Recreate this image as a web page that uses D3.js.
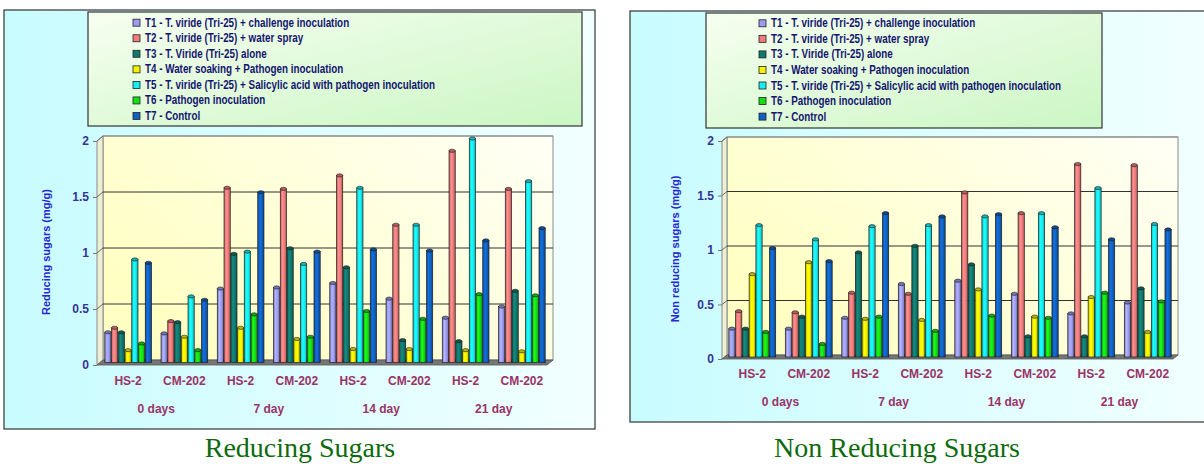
<!DOCTYPE html>
<html>
<head>
<meta charset="utf-8">
<script src="https://cdn.jsdelivr.net/npm/d3@7/dist/d3.min.js"></script>
<style>
  html, body { margin: 0; padding: 0; background: #fff; }
  svg { display: block; }
  .tick text { font-family: "Liberation Sans", Arial, sans-serif; }
</style>
</head>
<body>
<div id="chart"></div>
<script>
// --- Data ---
const days = ["0 days", "7 day", "14 day", "21 day"];
const varieties = ["HS-2", "CM-202"];
const seriesNames = [
  "T1 - T. viride (Tri-25) + challenge inoculation",
  "T2 - T. viride (Tri-25) + water spray",
  "T3 - T. Viride (Tri-25) alone",
  "T4 - Water soaking + Pathogen inoculation",
  "T5 - T. viride (Tri-25) + Salicylic acid with pathogen inoculation",
  "T6 - Pathogen inoculation",
  "T7 - Control"
];
const seriesColors = ["#9c9cf6", "#f27c7c", "#0f7a70", "#f4f400", "#16eef2", "#14e014", "#0f62c4"];
const yTicks = [0, 0.5, 1, 1.5, 2];

// reducing sugars (mg/g), one array per treatment, 8 groups (day x variety)
const redT1 = [0.27, 0.26, 0.66, 0.67, 0.71, 0.57, 0.40, 0.50];
const redT2 = [0.31, 0.37, 1.56, 1.55, 1.67, 1.23, 1.89, 1.55];
const redT3 = [0.27, 0.36, 0.97, 1.02, 0.85, 0.20, 0.19, 0.64];
const redT4 = [0.11, 0.23, 0.31, 0.21, 0.12, 0.12, 0.11, 0.10];
const redT5 = [0.92, 0.59, 0.99, 0.88, 1.56, 1.23, 2.00, 1.62];
const redT6 = [0.17, 0.11, 0.43, 0.23, 0.46, 0.39, 0.61, 0.60];
const redT7 = [0.89, 0.56, 1.52, 0.99, 1.01, 1.00, 1.09, 1.20];

// non reducing sugars (mg/g)
const nonT1 = [0.26, 0.26, 0.36, 0.67, 0.70, 0.58, 0.40, 0.50];
const nonT2 = [0.42, 0.41, 0.59, 0.58, 1.51, 1.32, 1.77, 1.76];
const nonT3 = [0.26, 0.37, 0.96, 1.02, 0.85, 0.19, 0.19, 0.63];
const nonT4 = [0.76, 0.87, 0.35, 0.34, 0.62, 0.37, 0.55, 0.23];
const nonT5 = [1.21, 1.08, 1.20, 1.21, 1.29, 1.32, 1.55, 1.22];
const nonT6 = [0.23, 0.12, 0.37, 0.24, 0.38, 0.36, 0.59, 0.51];
const nonT7 = [1.00, 0.88, 1.32, 1.29, 1.31, 1.19, 1.08, 1.17];

const reducing = [redT1, redT2, redT3, redT4, redT5, redT6, redT7];
const nonReducing = [nonT1, nonT2, nonT3, nonT4, nonT5, nonT6, nonT7];

const groups = days.flatMap(d => varieties.map(v => d + "|" + v));

// --- Layout ---
const W = 1204, H = 464;
const svg = d3.select("#chart").append("svg").attr("width", W).attr("height", H);
const defs = svg.append("defs");

const bg = defs.append("linearGradient").attr("id", "panelBg").attr("x1", 0).attr("x2", 1).attr("y1", 0).attr("y2", 0);
bg.append("stop").attr("offset", "0%").attr("stop-color", "#c8fcff");
bg.append("stop").attr("offset", "100%").attr("stop-color", "#f2ffff");

const lg = defs.append("linearGradient").attr("id", "legendBg").attr("x1", 0).attr("x2", 1).attr("y1", 0).attr("y2", 1);
lg.append("stop").attr("offset", "0%").attr("stop-color", "#f6fff0");
lg.append("stop").attr("offset", "100%").attr("stop-color", "#cbf6c4");

const wall = defs.append("linearGradient").attr("id", "wallBg").attr("x1", 0).attr("x2", 1).attr("y1", 0.6).attr("y2", 0);
wall.append("stop").attr("offset", "0%").attr("stop-color", "#ffffc4");
wall.append("stop").attr("offset", "100%").attr("stop-color", "#fffff6");

seriesColors.forEach((c, i) => {
  const g = defs.append("linearGradient").attr("id", "cyl" + i).attr("x1", 0).attr("x2", 1).attr("y1", 0).attr("y2", 0);
  g.append("stop").attr("offset", "0%").attr("stop-color", d3.color(c).darker(0.7));
  g.append("stop").attr("offset", "35%").attr("stop-color", d3.color(c).brighter(0.4));
  g.append("stop").attr("offset", "65%").attr("stop-color", c);
  g.append("stop").attr("offset", "100%").attr("stop-color", d3.color(c).darker(0.9));
});

const panels = [
  {
    data: reducing, title: "Reducing Sugars", yTitle: "Reducing sugars (mg/g)",
    box: [4, 10, 591, 419], legend: [88, 12, 494, 114], legX: 133, legY: 22.7,
    axisX: 97, y0: 365, y2: 141, dx: 6, dy: 5, backRight: 553, barRange: [100, 550],
    labelY: 385, dayY: 413, yTitleX: 50, yTitleY: 252, titleX: 300, titleY: 457
  },
  {
    data: nonReducing, title: "Non Reducing Sugars", yTitle: "Non reducing sugars (mg/g)",
    box: [630, 11, 590, 411], legend: [706, 13, 396, 115], legX: 759, legY: 23.3,
    axisX: 722, y0: 359, y2: 141, dx: 5, dy: 4, backRight: 1178, barRange: [724, 1176],
    labelY: 378, dayY: 406, yTitleX: 679, yTitleY: 249, titleX: 897, titleY: 457
  }
];

panels.forEach(drawPanel);

function drawPanel(p) {
  const g = svg.append("g");
  const [bx, by, bw, bh] = p.box;
  g.append("rect").attr("x", bx).attr("y", by).attr("width", bw).attr("height", bh)
    .attr("fill", "url(#panelBg)").attr("stroke", "#333").attr("stroke-width", 1.2);

  // legend
  const [lx, ly, lw, lh] = p.legend;
  g.append("rect").attr("x", lx).attr("y", ly).attr("width", lw).attr("height", lh)
    .attr("fill", "url(#legendBg)").attr("stroke", "#333").attr("stroke-width", 1.2);
  const items = g.selectAll(".leg").data(seriesNames).enter().append("g")
    .attr("transform", (d, i) => `translate(${p.legX},${p.legY + i * 15.55})`);
  items.append("rect").attr("x", 0).attr("y", -3.5).attr("width", 7).attr("height", 7)
    .attr("fill", (d, i) => seriesColors[i]).attr("stroke", "#222").attr("stroke-width", 0.8);
  // narrow look of the original legend font
  items.append("text").attr("transform", "translate(12,4) scale(0.82,1)")
    .attr("font-family", "'Liberation Sans', Arial, sans-serif")
    .attr("font-weight", "bold").attr("font-size", "12px").attr("fill", "#141470")
    .text(d => d);

  // scales
  const yF = d3.scaleLinear().domain([0, 2]).range([p.y0, p.y2]);
  const yB = d3.scaleLinear().domain([0, 2]).range([p.y0 - p.dy, p.y2 - p.dy]);
  const yM = d3.scaleLinear().domain([0, 2]).range([p.y0 - p.dy / 2, p.y2 - p.dy / 2]);
  const x0 = d3.scaleBand().domain(groups).range(p.barRange).paddingInner(0.17).paddingOuter(0.085);
  const x1 = d3.scaleBand().domain(d3.range(seriesNames.length)).range([0, x0.bandwidth()]).paddingInner(0.08);

  const frontRight = p.backRight - p.dx;

  // back wall
  g.append("rect").attr("x", p.axisX + p.dx).attr("y", yB(2))
    .attr("width", p.backRight - p.axisX - p.dx).attr("height", yB(0) - yB(2))
    .attr("fill", "url(#wallBg)").attr("stroke", "#8a8a8a").attr("stroke-width", 1);
  // side wall
  g.append("polygon")
    .attr("points", [[p.axisX, yF(2)], [p.axisX + p.dx, yB(2)], [p.axisX + p.dx, yB(0)], [p.axisX, yF(0)]].join(" "))
    .attr("fill", "#eeeed2").attr("stroke", "#8a8a8a").attr("stroke-width", 1);

  // gridlines
  g.selectAll(".grid").data(yTicks.filter(v => v > 0)).enter().append("line")
    .attr("x1", p.axisX + p.dx).attr("x2", p.backRight)
    .attr("y1", d => yB(d)).attr("y2", d => yB(d))
    .attr("stroke", d => d === 2 ? "#8a8a8a" : "#333").attr("stroke-width", 1);
  g.selectAll(".sgrid").data(yTicks.filter(v => v > 0)).enter().append("line")
    .attr("x1", p.axisX).attr("x2", p.axisX + p.dx)
    .attr("y1", d => yF(d)).attr("y2", d => yB(d))
    .attr("stroke", "#666").attr("stroke-width", 1);

  // floor
  g.append("polygon")
    .attr("points", [[p.axisX, yF(0)], [frontRight, yF(0)], [p.backRight, yB(0)], [p.axisX + p.dx, yB(0)]].join(" "))
    .attr("fill", "#767676").attr("stroke", "#555").attr("stroke-width", 0.8);

  // bars
  const bars = [];
  p.data.forEach((arr, s) => arr.forEach((v, gi) => bars.push({ s, g: groups[gi], v })));
  const bw1 = x1.bandwidth();
  const barG = g.selectAll(".bar").data(bars).enter().append("g");
  barG.append("rect")
    .attr("x", d => x0(d.g) + x1(d.s))
    .attr("y", d => yM(d.v))
    .attr("width", bw1)
    .attr("height", d => yM(0) - yM(d.v))
    .attr("fill", d => `url(#cyl${d.s})`)
    .attr("stroke", "#1d1d1d").attr("stroke-width", 0.7);
  barG.append("ellipse")
    .attr("cx", d => x0(d.g) + x1(d.s) + bw1 / 2)
    .attr("cy", d => yM(d.v))
    .attr("rx", bw1 / 2).attr("ry", 1.6)
    .attr("fill", d => d3.color(seriesColors[d.s]).darker(0.8))
    .attr("stroke", "#1d1d1d").attr("stroke-width", 0.6);

  // y axis
  const ax = g.append("g").attr("transform", `translate(${p.axisX},0)`)
    .call(d3.axisLeft(yF).tickValues(yTicks).tickSize(4).tickPadding(4).tickFormat(d3.format("")));
  ax.select(".domain").remove();
  ax.selectAll(".tick line").attr("stroke", "#777");
  ax.selectAll(".tick text").attr("fill", "#333399").attr("font-weight", "bold").attr("font-size", "12px");

  g.append("text")
    .attr("transform", `translate(${p.yTitleX},${p.yTitleY}) rotate(-90)`)
    .attr("text-anchor", "middle")
    .attr("font-family", "'Liberation Sans', Arial, sans-serif")
    .attr("font-weight", "bold").attr("font-size", "11px").attr("fill", "#2727cf")
    .text(p.yTitle);

  // category labels
  g.selectAll(".cat").data(groups).enter().append("text")
    .attr("x", d => x0(d) + x0.bandwidth() / 2)
    .attr("y", p.labelY)
    .attr("text-anchor", "middle")
    .attr("font-family", "'Liberation Sans', Arial, sans-serif")
    .attr("font-weight", "bold").attr("font-size", "12px").attr("fill", "#993366")
    .text(d => d.split("|")[1]);

  g.selectAll(".day").data(days).enter().append("text")
    .attr("x", d => (x0(d + "|" + varieties[0]) + x0(d + "|" + varieties[1]) + x0.bandwidth()) / 2)
    .attr("y", p.dayY)
    .attr("text-anchor", "middle")
    .attr("font-family", "'Liberation Sans', Arial, sans-serif")
    .attr("font-weight", "bold").attr("font-size", "12px").attr("fill", "#993366")
    .text(d => d);

  // panel caption
  svg.append("text")
    .attr("x", p.titleX).attr("y", p.titleY)
    .attr("text-anchor", "middle")
    .attr("font-family", "'Liberation Serif', 'Times New Roman', serif")
    .attr("font-size", "28px").attr("fill", "#0c6b0c")
    .text(p.title);
}
</script>
</body>
</html>
